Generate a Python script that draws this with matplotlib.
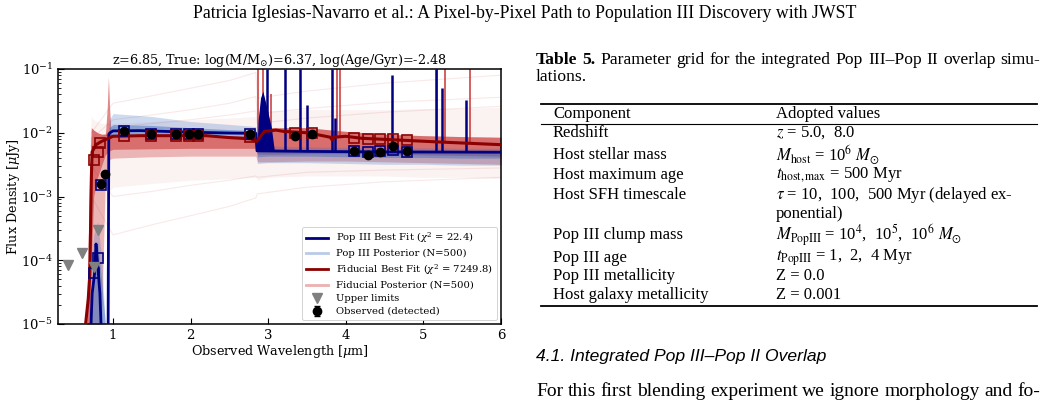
import matplotlib
matplotlib.use("Agg")
import matplotlib.pyplot as plt
from matplotlib.lines import Line2D

plt.rcParams["font.family"] = "DejaVu Serif"
plt.rcParams["mathtext.fontset"] = "dejavuserif"

# ---------------- photometry ----------------
obs_wl = [0.845, 0.89, 1.14, 1.49, 1.81, 1.98, 2.10, 2.77, 3.35, 3.56, 4.10, 4.29, 4.44, 4.61, 4.79]
obs_flux = [1.57e-3, 2.25e-3, 1.05e-2, 9.5e-3, 9.5e-3, 9.4e-3, 9.4e-3, 9.6e-3,
            9.0e-3, 9.7e-3, 5.2e-3, 4.5e-3, 5.0e-3, 6.1e-3, 5.2e-3]
obs_err = [1.0e-4, 1.2e-4, 3e-4, 3e-4, 3e-4, 3e-4, 3e-4, 3e-4,
           3e-4, 3e-4, 2e-4, 2e-4, 2e-4, 2e-4, 2e-4]
ul_wl = [0.42, 0.60, 0.76, 0.80]
ul_flux = [8.3e-5, 1.3e-4, 7.8e-5, 3.0e-4]

popiii_phot_wl = [0.76, 0.80, 0.845, 1.14, 1.49, 1.81, 1.98, 2.10, 2.77, 4.10, 4.29, 4.44, 4.61, 4.79]
popiii_phot = [6.2e-5, 1.09e-4, 1.5e-3, 1.05e-2, 9.6e-3, 9.6e-3, 9.5e-3, 9.5e-3, 9.7e-3,
               5.2e-3, 5.0e-3, 5.2e-3, 5.3e-3, 5.0e-3]
fid_phot_wl = [0.76, 0.80, 0.83, 1.14, 1.49, 1.81, 1.98, 2.10, 2.77, 3.35, 3.56, 4.10, 4.29, 4.44, 4.61, 4.79]
fid_phot = [3.7e-3, 5.0e-3, 7.0e-3, 8.8e-3, 8.8e-3, 8.8e-3, 8.8e-3, 8.8e-3, 8.6e-3,
            1.0e-2, 1.0e-2, 8.4e-3, 8.0e-3, 8.0e-3, 7.9e-3, 7.6e-3]

# ---------------- best-fit spectra (continuum nodes) ----------------
popiii_wl = [0.70, 0.73, 0.76, 0.78, 0.80, 0.83, 0.86, 0.935, 0.945, 0.96, 1.0, 1.35, 2.0, 2.5, 2.84,
             2.855, 3.5, 4.5, 6.0]
popiii_flux = [3e-6, 3e-5, 6e-5, 1.8e-4, 9e-5, 3e-5, 3e-6, 3e-6, 9.5e-3, 1.0e-2, 1.07e-2, 1.08e-2,
               1.02e-2, 9.9e-3, 9.8e-3, 5.2e-3, 5.1e-3, 5.0e-3, 4.95e-3]
popiii_lines_wl = [2.98, 3.22, 3.41, 3.50, 3.82, 3.86, 4.60, 5.16, 5.24, 5.55]
popiii_lines_base = [5.2e-3, 5.2e-3, 5.1e-3, 5.1e-3, 5.1e-3, 5.1e-3, 5.0e-3, 5.0e-3, 5.0e-3, 4.95e-3]
popiii_lines_peak = [0.1, 0.1, 0.1, 2.7e-2, 0.1, 1.7e-2, 8e-2, 0.1, 5e-2, 3.3e-2]
balmer_wl = [2.855, 2.87, 2.90, 2.93, 2.96, 3.00, 3.04, 3.08]
balmer_top = [5.2e-3, 1.6e-2, 3.5e-2, 4.5e-2, 3.2e-2, 2.0e-2, 1.2e-2, 5.1e-3]

fid_wl = [0.62, 0.68, 0.70, 0.72, 0.73, 0.78, 0.85, 0.95, 1.0, 1.35, 2.2, 2.5, 2.78, 2.85, 2.95,
          3.1, 3.2, 3.5, 3.7, 3.80, 3.82, 3.84, 4.0, 4.2, 5.16, 6.0]
fid_flux = [5e-6, 2.5e-5, 6e-5, 2e-3, 5e-3, 6.5e-3, 7.3e-3, 8.3e-3, 8.8e-3, 9e-3, 9e-3, 8.4e-3,
            8e-3, 7.3e-3, 1.05e-2, 1.1e-2, 1.05e-2, 1.0e-2, 9e-3, 8.5e-3, 7.8e-3, 8.5e-3, 8.8e-3,
            8.2e-3, 7.2e-3, 6.5e-3]
fid_lines_wl = [2.87, 2.93, 3.04, 3.89, 3.93, 5.17, 5.28, 5.60]
fid_lines_base = [6e-3, 7e-3, 1e-2, 8.5e-3, 8.5e-3, 7e-3, 7e-3, 6.8e-3]
fid_lines_peak = [0.1, 0.1, 4e-2, 0.1, 0.1, 0.1, 0.1, 0.1]
lya_wl = [0.90, 0.925, 0.94, 0.955, 0.975]
lya_top = [9e-3, 2.5e-2, 7.5e-2, 2.5e-2, 9e-3]

# ---------------- posterior envelopes ----------------
post_wl = [0.66, 0.70, 0.72, 0.75, 0.80, 0.85, 0.90, 0.95, 1.0, 1.5, 2.0, 2.5, 2.84, 2.86,
           3.0, 3.5, 4.0, 4.5, 5.0, 5.5, 6.0]
fid_core_lo = [1e-5, 1e-5, 1e-5, 1e-5, 1e-5, 1e-5, 2e-3, 3.8e-3, 4.0e-3, 4.2e-3, 4.3e-3, 4.3e-3, 4.3e-3,
               3.5e-3, 3.5e-3, 3.6e-3, 3.6e-3, 3.5e-3, 3.4e-3, 3.3e-3, 3.2e-3]
fid_core_hi = [1e-5, 3e-3, 1.2e-2, 1.1e-2, 1.0e-2, 9.5e-3, 9.5e-3, 9.5e-3, 9.5e-3, 9.3e-3, 9.2e-3, 9.0e-3,
               9.0e-3, 8.0e-3, 1.2e-2, 1.2e-2, 1.05e-2, 9.5e-3, 9.0e-3, 8.7e-3, 8.5e-3]
fid_dense_lo = [1e-5, 1e-5, 1e-4, 1e-3, 2e-3, 3e-3, 4.5e-3, 5.2e-3, 5.5e-3, 5.6e-3, 5.7e-3, 5.7e-3, 5.7e-3,
                4.6e-3, 4.6e-3, 4.7e-3, 4.7e-3, 4.6e-3, 4.5e-3, 4.4e-3, 4.3e-3]
fid_wide_lo = [1e-5, 1e-5, 1e-5, 1e-5, 1e-5, 1e-5, 8e-4, 1.2e-3, 1.4e-3, 1.6e-3, 1.8e-3, 1.9e-3, 2.0e-3,
               1.8e-3, 2.0e-3, 2.1e-3, 2.1e-3, 2.1e-3, 2.0e-3, 2.0e-3, 1.9e-3]
fid_wide_hi = [1e-5, 6e-3, 1.8e-2, 1.6e-2, 1.5e-2, 1.4e-2, 1.4e-2, 1.4e-2, 1.4e-2, 1.5e-2, 1.6e-2, 1.7e-2,
               1.8e-2, 1.5e-2, 2.2e-2, 2.3e-2, 2.3e-2, 2.3e-2, 2.4e-2, 2.4e-2, 2.5e-2]
popiii_core_lo = [1e-5, 1e-5, 1e-5, 1e-5, 1e-5, 1e-5, 1e-5, 9e-3, 9.3e-3, 9.6e-3, 9.4e-3, 9.2e-3, 9.1e-3,
                  4.2e-3, 4.3e-3, 4.3e-3, 4.2e-3, 4.1e-3, 4.1e-3, 4.0e-3, 4.0e-3]
popiii_core_hi = [1e-5, 1e-5, 3e-5, 1e-4, 2e-4, 5e-5, 1e-5, 1.2e-2, 1.35e-2, 1.3e-2, 1.2e-2, 1.12e-2,
                  1.08e-2, 5.6e-3, 5.6e-3, 5.5e-3, 5.5e-3, 5.4e-3, 5.4e-3, 5.3e-3, 5.3e-3]
popiii_wide_hi = [1e-5, 1e-5, 8e-5, 2.5e-4, 4e-4, 1.2e-4, 1e-5, 1.6e-2, 2.0e-2, 1.8e-2, 1.5e-2, 1.35e-2,
                  1.25e-2, 6.0e-3, 6.2e-3, 6.0e-3, 5.9e-3, 5.8e-3, 5.8e-3, 5.7e-3, 5.7e-3]
popiii_wide_lo = [1e-5, 1e-5, 1e-5, 1e-5, 1e-5, 1e-5, 1e-5, 8e-3, 8.8e-3, 9.0e-3, 8.8e-3, 8.6e-3, 8.5e-3,
                  3.3e-3, 3.4e-3, 3.4e-3, 3.3e-3, 3.2e-3, 3.2e-3, 3.1e-3, 3.1e-3]

# a few faint outlying posterior draws
stray_wl = [0.72, 1.0, 1.5, 2.0, 2.5, 2.84, 2.86, 3.5, 4.5, 6.0]
stray_draws = [
    [1e-3, 2.5e-4, 3.6e-4, 5e-4, 7e-4, 9.5e-4, 1.1e-3, 1.4e-3, 1.7e-3, 2.0e-3],
    [3e-3, 1.0e-3, 1.2e-3, 1.5e-3, 1.8e-3, 2.1e-3, 2.0e-3, 2.4e-3, 2.6e-3, 2.8e-3],
    [8e-3, 1.6e-2, 1.9e-2, 2.3e-2, 2.9e-2, 3.7e-2, 2.0e-2, 2.4e-2, 3.0e-2, 3.6e-2],
    [1e-2, 2.9e-2, 3.8e-2, 5.0e-2, 6.6e-2, 8.8e-2, 3.5e-2, 4.5e-2, 6.0e-2, 8.0e-2],
    [6e-3, 1.2e-2, 1.4e-2, 1.6e-2, 1.9e-2, 2.2e-2, 1.4e-2, 1.7e-2, 2.1e-2, 2.6e-2],
]

# ---------------- page text ----------------
header = "Patricia Iglesias-Navarro et al.: A Pixel-by-Pixel Path to Population III Discovery with JWST"
caption_line1 = [("Table", "bold"), ("5.", "bold"), ("Parameter", "normal"), ("grid", "normal"),
                 ("for", "normal"), ("the", "normal"), ("integrated", "normal"), ("Pop", "normal"),
                 ("III\u2013Pop", "normal"), ("II", "normal"), ("overlap", "normal"), ("simu-", "normal")]
caption_line2 = "lations."
table_rows = [
    ("Component", "Adopted values"),
    ("Redshift", r"$z$ = 5.0,  8.0"),
    ("Host stellar mass", r"$M_{\rm host}$ = 10$^{6}$ $M_{\odot}$"),
    ("Host maximum age", r"$t_{\rm host,max}$ = 500 Myr"),
    ("Host SFH timescale", r"$\tau$ = 10,  100,  500 Myr (delayed ex-"),
    ("", "ponential)"),
    ("Pop III clump mass", r"$M_{\rm PopIII}$ = 10$^{4}$,  10$^{5}$,  10$^{6}$ $M_{\odot}$"),
    ("Pop III age", r"$t_{\rm PopIII}$ = 1,  2,  4 Myr"),
    ("Pop III metallicity", "Z = 0.0"),
    ("Host galaxy metallicity", "Z = 0.001"),
]
row_y = [114, 133, 155, 175, 195, 214, 235, 258, 276, 295]
section_title = "4.1. Integrated Pop III\u2013Pop II Overlap"
body_line = "For this first blending experiment we ignore morphology and fo-"

W, H = 1050, 401
fig = plt.figure(figsize=(W / 100, H / 100), dpi=100)


def fx(px):
    return px / W


def fy(py):
    return 1 - py / H


serif_page = "Liberation Serif"
small_size = 12.6
body_size = 14


def justify(words, x0, x1, y, size):
    # place words so the line fills x0..x1, like the typeset page
    texts = [fig.text(0, fy(y), w, ha="left", va="center", fontsize=size,
                      family=serif_page, weight=wt) for w, wt in words]
    r = fig.canvas.get_renderer()
    widths = [t.get_window_extent(r).width for t in texts]
    gap = (x1 - x0 - sum(widths)) / (len(words) - 1)
    x = x0
    for t, w in zip(texts, widths):
        t.set_x(fx(x))
        x += w + gap


# ---------------- chart ----------------
ax = fig.add_axes([fx(58), fy(324), fx(501 - 58), (324 - 69) / H])

red = "#c62828"
blue = "#3a6cc0"
ax.fill_between(post_wl, fid_wide_lo, fid_wide_hi, color=red, alpha=0.06, lw=0, zorder=1)
ax.fill_between(post_wl, fid_core_lo, fid_core_hi, color=red, alpha=0.3, lw=0, zorder=1)
ax.fill_between(post_wl, fid_dense_lo, fid_core_hi, color=red, alpha=0.5, lw=0, zorder=1)
for d in stray_draws:
    ax.plot(stray_wl, d, color=red, alpha=0.1, lw=0.8, zorder=1)
ax.fill_between(lya_wl, 9e-3, lya_top, color=red, alpha=0.55, lw=0, zorder=1)
ax.fill_between(post_wl, popiii_wide_lo, popiii_wide_hi, color=blue, alpha=0.25, lw=0, zorder=2)
ax.fill_between(post_wl, popiii_core_lo, popiii_core_hi, color=blue, alpha=0.45, lw=0, zorder=2)
ax.vlines(fid_lines_wl, fid_lines_base, fid_lines_peak, color=red, alpha=0.8, lw=1.3, zorder=2)

ax.fill_between(balmer_wl, 5.1e-3, balmer_top, color="navy", lw=0, zorder=3)
ax.plot(popiii_wl, popiii_flux, color="navy", lw=2, zorder=3)
ax.vlines(popiii_lines_wl, popiii_lines_base, popiii_lines_peak, color="navy", lw=1.8, zorder=3)
ax.plot(fid_wl, fid_flux, color="darkred", lw=2.2, zorder=4)

ax.plot(popiii_phot_wl, popiii_phot, ls="none", marker="s", ms=7.5, mfc="none",
        mec="navy", mew=1.2, zorder=5)
ax.plot(fid_phot_wl, fid_phot, ls="none", marker="s", ms=7.5, mfc="none",
        mec="darkred", mew=1.2, zorder=5)
ul = ax.plot(ul_wl, ul_flux, ls="none", marker="v", ms=7, color="gray", zorder=6)[0]
obs = ax.errorbar(obs_wl, obs_flux, yerr=obs_err, fmt="o", color="black", ms=6,
                  capsize=2, elinewidth=1, zorder=7)

ax.set_yscale("log")
ax.set_xlim(0.29, 6.0)
ax.set_ylim(1e-5, 1e-1)
ax.set_xticks([1, 2, 3, 4, 5, 6])
ax.tick_params(which="both", direction="in", labelsize=9.5)
ax.tick_params(which="major", length=4.5)
ax.tick_params(which="minor", length=2.5)
for s in ax.spines.values():
    s.set_linewidth(1.1)
ax.set_xlabel(r"Observed Wavelength [$\mu$m]", fontsize=9.2, labelpad=1)
ax.set_ylabel(r"Flux Density [$\mu$Jy]", fontsize=9.2, labelpad=-1)
ax.set_title(r"z=6.85, True: log(M/M$_{\odot}$)=6.37, log(Age/Gyr)=-2.48", fontsize=9.2, pad=3)

handles = [
    Line2D([], [], color="navy", lw=2),
    Line2D([], [], color="#b9cbe8", lw=2),
    Line2D([], [], color="darkred", lw=2),
    Line2D([], [], color="#eeb0b0", lw=2),
    ul,
    obs,
]
labels = [
    r"Pop III Best Fit ($\chi^2$ = 22.4)",
    "Pop III Posterior (N=500)",
    r"Fiducial Best Fit ($\chi^2$ = 7249.8)",
    "Fiducial Posterior (N=500)",
    "Upper limits",
    "Observed (detected)",
]
leg = ax.legend(handles, labels, loc="lower right", framealpha=1,
                prop={"family": "DejaVu Serif", "size": 7.2}, borderaxespad=0.4,
                handlelength=2.2, labelspacing=0.4)
leg.get_frame().set_linewidth(0.6)
leg.set_zorder(10)

# ---------------- page text ----------------
fig.text(0.5, fy(13), header, ha="center", va="center", fontsize=12.8, family=serif_page)

fig.canvas.draw()
justify(caption_line1, 536, 1040, 60, small_size)
fig.text(fx(536), fy(77), caption_line2, ha="left", va="center", fontsize=small_size, family=serif_page)

for yy, lw in [(104, 1.3), (124, 0.8), (306, 1.3)]:
    fig.add_artist(Line2D([fx(541), fx(1037)], [fy(yy), fy(yy)], color="black", lw=lw))
for (c1, c2), yy in zip(table_rows, row_y):
    fig.text(fx(553), fy(yy), c1, ha="left", va="center", fontsize=12.0, family=serif_page)
    fig.text(fx(776), fy(yy), c2, ha="left", va="center", fontsize=12.0, family=serif_page,
             math_fontfamily="stix")

fig.text(fx(536), fy(357), section_title, ha="left", va="center", fontsize=12.6,
         family="Liberation Sans", style="italic")
justify([(w, "normal") for w in body_line.split()], 536, 1040, 392, body_size)

fig.savefig("out.png", dpi=100)
